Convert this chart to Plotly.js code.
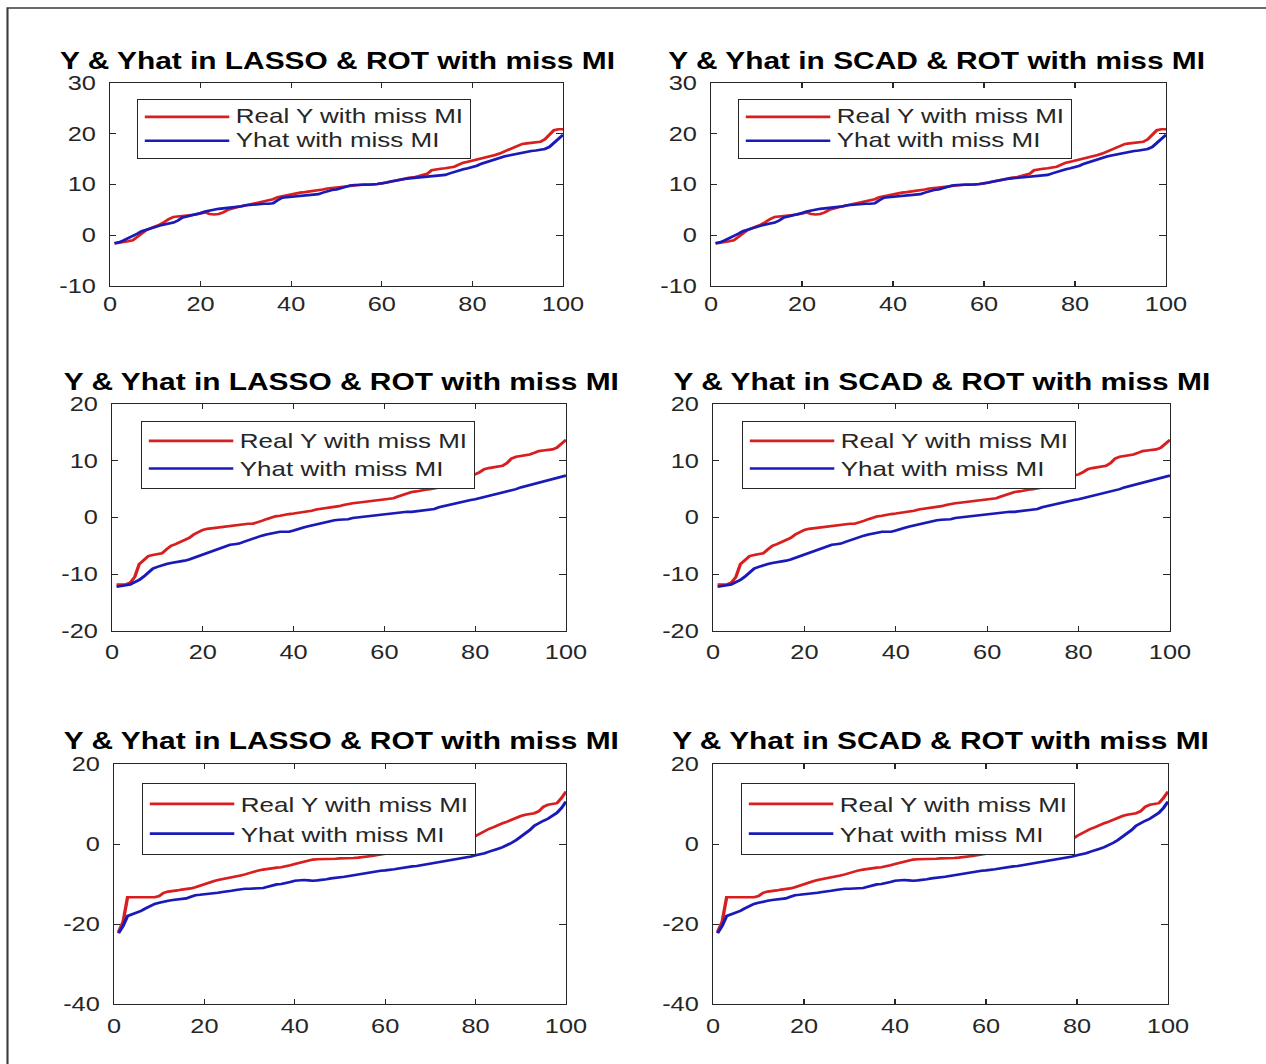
<!DOCTYPE html>
<html><head><meta charset="utf-8">
<script src="https://cdn.plot.ly/plotly-3.0.1.min.js"></script>
<style>
html,body{margin:0;padding:0;background:#fff;overflow:hidden;}
#wrap{width:1266px;height:1064px;overflow:hidden;position:relative;}
#chart{width:974px;height:1064px;transform-origin:0 0;transform:scaleX(1.29979);}
</style></head><body><div id="wrap"><div id="chart"></div></div>
<script>
// ---------------- data ----------------
const sampleIndex = [1,2,3,4,5,6,7,8,9,10,11,12,13,14,15,16,17,18,19,20,21,22,23,24,25,26,27,28,29,30,31,32,33,34,35,36,37,38,39,40,41,42,43,44,45,46,47,48,49,50,51,52,53,54,55,56,57,58,59,60,61,62,63,64,65,66,67,68,69,70,71,72,73,74,75,76,77,78,79,80,81,82,83,84,85,86,87,88,89,90,91,92,93,94,95,96,97,98,99,100];

const realY_row1 = [-1.6,-1.5,-1.3,-1.2,-1.0,-0.3,0.4,1.0,1.4,1.7,
 2.1,2.6,3.2,3.6,3.7,3.8,3.8,3.9,4.1,4.3,
 4.5,4.2,4.1,4.2,4.5,5.0,5.3,5.5,5.7,5.9,
 6.1,6.3,6.5,6.7,6.9,7.1,7.5,7.7,7.9,8.0,
 8.2,8.4,8.5,8.6,8.7,8.8,9.0,9.2,9.3,9.5,
 9.6,9.7,9.8,9.9,9.9,10.0,10.0,10.0,10.1,10.2,
 10.4,10.6,10.8,10.9,11.1,11.3,11.4,11.6,11.8,12.1,
 12.8,13.0,13.1,13.2,13.3,13.5,13.9,14.3,14.5,14.7,
 14.9,15.2,15.4,15.6,15.8,16.1,16.5,16.9,17.3,17.7,
 18.0,18.1,18.2,18.3,18.4,18.9,19.8,20.7,20.9,20.9];

const yhat_row1 = [-1.6,-1.4,-1.0,-0.6,-0.2,0.3,0.8,1.1,1.4,1.6,
 1.9,2.1,2.3,2.5,2.9,3.5,3.7,3.9,4.1,4.4,
 4.7,4.9,5.0,5.2,5.3,5.4,5.4,5.5,5.7,5.9,
 6.0,6.1,6.2,6.2,6.2,6.3,6.9,7.4,7.5,7.6,
 7.7,7.8,7.9,8.0,8.0,8.1,8.4,8.7,8.9,9.0,
 9.3,9.6,9.8,9.9,9.9,10.0,10.0,10.0,10.1,10.2,
 10.4,10.6,10.8,10.9,11.1,11.2,11.3,11.4,11.4,11.5,
 11.6,11.7,11.8,11.9,12.2,12.5,12.8,13.0,13.2,13.4,
 13.7,14.1,14.4,14.6,14.9,15.2,15.5,15.7,15.9,16.1,
 16.3,16.5,16.6,16.7,16.8,17.0,17.4,18.2,19.0,19.8];

const realY_row2 = [-11.8,-11.8,-11.8,-11.5,-10.5,-8.2,-7.4,-6.8,-6.6,-6.5,
 -6.3,-5.6,-5.0,-4.7,-4.3,-4.0,-3.6,-3.0,-2.6,-2.2,
 -2.0,-1.9,-1.8,-1.7,-1.6,-1.5,-1.3,-1.2,-1.2,-1.1,
 -1.1,-0.9,-0.6,-0.3,0.0,0.2,0.3,0.5,0.6,0.7,
 0.8,0.9,1.0,1.2,1.4,1.5,1.6,1.7,1.9,2.0,
 2.2,2.4,2.5,2.6,2.7,2.8,2.8,2.9,3.0,3.1,
 3.2,3.4,3.7,4.0,4.3,4.5,4.6,4.8,4.9,5.0,
 5.1,5.3,5.6,6.4,6.6,6.8,7.0,7.2,7.4,7.6,
 8.0,8.5,8.7,8.8,8.9,9.1,9.6,10.4,10.7,10.8,
 11.0,11.1,11.4,11.7,11.8,11.9,12.0,12.3,13.0,13.7];

const yhat_row2 = [-12.2,-12.1,-12.0,-11.8,-11.4,-11.0,-10.4,-9.6,-9.0,-8.7,
 -8.4,-8.2,-8.0,-7.9,-7.8,-7.6,-7.4,-7.1,-6.8,-6.6,
 -6.3,-6.0,-5.7,-5.3,-5.0,-4.8,-4.7,-4.6,-4.3,-4.0,
 -3.7,-3.5,-3.2,-3.0,-2.8,-2.6,-2.5,-2.5,-2.5,-2.3,
 -2.0,-1.8,-1.6,-1.4,-1.2,-1.0,-0.8,-0.6,-0.5,-0.4,
 -0.4,-0.3,-0.1,0.0,0.1,0.2,0.3,0.4,0.5,0.6,
 0.7,0.8,0.85,0.9,1.0,1.0,1.1,1.1,1.2,1.3,
 1.5,1.8,2.0,2.2,2.4,2.6,2.8,2.9,3.1,3.2,
 3.4,3.6,3.7,4.0,4.2,4.4,4.6,4.8,5.0,5.3,
 5.5,5.7,5.9,6.1,6.3,6.5,6.7,6.9,7.2,7.4];

const realY_row3 = [-22.0,-19.5,-13.3,-13.3,-13.3,-13.3,-13.3,-13.3,-13.3,-13.0,
 -12.2,-11.9,-11.8,-11.6,-11.4,-11.3,-11.1,-10.8,-10.4,-9.9,
 -9.5,-9.3,-9.0,-8.8,-8.6,-8.4,-8.1,-7.9,-7.6,-7.2,
 -6.9,-6.6,-6.4,-6.2,-6.0,-5.9,-5.8,-5.6,-5.3,-5.0,
 -4.7,-4.4,-4.1,-3.9,-3.8,-3.8,-3.7,-3.7,-3.7,-3.6,
 -3.6,-3.5,-3.5,-3.4,-3.3,-3.1,-3.0,-2.8,-2.6,-2.4,
 -2.3,-2.1,-1.9,-1.7,-1.5,-1.4,-1.3,-1.2,-1.1,-1.1,
 -1.0,-0.8,-0.5,-0.3,-0.1,0.2,0.5,0.8,1.2,2.0,
 2.6,3.3,3.8,4.2,4.8,5.2,5.6,6.1,6.7,7.0,
 7.3,7.5,7.7,8.2,9.3,9.8,10.0,10.2,11.5,13.1];

const yhat_row3 = [-22.3,-20.5,-18.0,-17.6,-17.2,-16.7,-16.1,-15.5,-15.0,-14.7,
 -14.4,-14.2,-14.0,-13.9,-13.8,-13.6,-13.2,-12.8,-12.7,-12.6,
 -12.5,-12.4,-12.2,-12.0,-11.9,-11.7,-11.5,-11.3,-11.2,-11.2,
 -11.1,-11.1,-11.0,-10.7,-10.4,-10.1,-10.0,-9.8,-9.5,-9.2,
 -9.1,-9.0,-9.1,-9.2,-9.1,-9.0,-8.8,-8.6,-8.5,-8.4,
 -8.2,-8.0,-7.8,-7.6,-7.5,-7.3,-7.1,-6.9,-6.7,-6.6,
 -6.5,-6.3,-6.1,-5.9,-5.7,-5.6,-5.5,-5.3,-5.1,-5.0,
 -4.8,-4.6,-4.4,-4.1,-3.9,-3.7,-3.5,-3.4,-3.1,-2.8,
 -2.6,-2.3,-1.9,-1.6,-1.2,-0.8,-0.3,0.3,1.0,1.8,
 2.8,3.5,4.6,5.3,5.8,6.3,7.1,7.8,9.0,10.6];

const titleLeft = "Y & Yhat in LASSO & ROT with miss MI";
const titleRight = "Y & Yhat in SCAD & ROT with miss MI";
const nameReal = "Real Y with miss MI";
const nameHat = "Yhat with miss MI";

const xTickVals = [0,20,40,60,80,100];
const xTickText = ["0","20","40","60","80","100"];
const yTickValsRow1 = [-10,0,10,20,30];
const yTickTextRow1 = ["-10","0","10","20","30"];
const yTickValsRow2 = [-20,-10,0,10,20];
const yTickTextRow2 = ["-20","-10","0","10","20"];
const yTickValsRow3 = [-40,-20,0,20];
const yTickTextRow3 = ["-40","-20","0","20"];

// ---------------- layout geometry (page pixels) ----------------
const PW = 1266, PH = 1064;
const panels = [
  {box:[110,563,83,286],  yr:[-10,30], yv:yTickValsRow1, yt:yTickTextRow1, real:realY_row1, hat:yhat_row1, title:titleLeft,  tc:[337,61.5], leg:[137,99],  lfs:16,   xso:1},
  {box:[711,1166,83,286], yr:[-10,30], yv:yTickValsRow1, yt:yTickTextRow1, real:realY_row1, hat:yhat_row1, title:titleRight, tc:[937,61.5], leg:[738,99],  lfs:16,   xso:1},
  {box:[112,566,404,631], yr:[-20,20], yv:yTickValsRow2, yt:yTickTextRow2, real:realY_row2, hat:yhat_row2, title:titleLeft,  tc:[341,381.5],leg:[141,421], lfs:19,   xso:4},
  {box:[713,1170,404,631],yr:[-20,20], yv:yTickValsRow2, yt:yTickTextRow2, real:realY_row2, hat:yhat_row2, title:titleRight, tc:[942,381.5],leg:[742,421], lfs:19,   xso:4},
  {box:[114,566,764,1004],yr:[-40,20], yv:yTickValsRow3, yt:yTickTextRow3, real:realY_row3, hat:yhat_row3, title:titleLeft,  tc:[341,741],  leg:[142,783], lfs:20.6, xso:5},
  {box:[713,1168,764,1004],yr:[-40,20],yv:yTickValsRow3, yt:yTickTextRow3, real:realY_row3, hat:yhat_row3, title:titleRight, tc:[941,741],  leg:[741,783], lfs:20.6, xso:5}
];

const FONT = "Liberation Sans, Arial, Helvetica, sans-serif";
const AX = '#262626';
const RED = '#d81e1e';
const BLUE = '#1a1ab8';
const LEGEND_TEXT_PX = 20;

const traces = [];
const layout = {
  width: 974, height: PH,
  margin: {l:0, r:0, t:0, b:0, pad:0},
  paper_bgcolor: '#fff', plot_bgcolor: '#fff',
  annotations: [], shapes: [],
  font: {family: FONT, color: AX}
};

const legendLabel = (s) => '<span style="font-size:' + LEGEND_TEXT_PX + 'px">' + s + '</span>';

panels.forEach((p, i) => {
  const k = i + 1;
  const xa = k === 1 ? 'x' : 'x' + k;
  const ya = k === 1 ? 'y' : 'y' + k;
  const lg = k === 1 ? 'legend' : 'legend' + k;
  traces.push({x: sampleIndex, y: p.real, type:'scatter', mode:'lines', name: legendLabel(nameReal),
    line:{color:RED, width:2.6}, xaxis:xa, yaxis:ya, legend:lg});
  traces.push({x: sampleIndex, y: p.hat, type:'scatter', mode:'lines', name: legendLabel(nameHat),
    line:{color:BLUE, width:2.6}, xaxis:xa, yaxis:ya, legend:lg});

  const common = {showgrid:false, zeroline:false, showline:true, linecolor:AX, linewidth:1,
    mirror:'allticks', ticks:'inside', ticklen:5, tickcolor:AX, tickwidth:1,
    tickfont:{family:FONT, size:19.5, color:AX}, fixedrange:true, tickmode:'array'};
  layout[k === 1 ? 'xaxis' : 'xaxis' + k] = Object.assign({}, common, {
    domain:[p.box[0]/PW, p.box[1]/PW], range:[0,100], tickvals:xTickVals, ticktext:xTickText, anchor: ya,
    ticklabelstandoff: p.xso});
  layout[k === 1 ? 'yaxis' : 'yaxis' + k] = Object.assign({}, common, {
    domain:[1 - p.box[3]/PH, 1 - p.box[2]/PH], range:p.yr, tickvals:p.yv, ticktext:p.yt, anchor: xa,
    ticklabelstandoff: 6});
  layout[lg] = {x: p.leg[0]/PW, y: 1 - p.leg[1]/PH, xanchor:'left', yanchor:'top',
    bgcolor:'#fff', bordercolor:AX, borderwidth:1, itemwidth:65,
    font:{family:FONT, size:p.lfs, color:AX}, traceorder:'normal'};
  layout.annotations.push({xref:'paper', yref:'paper', x:p.tc[0]/PW, y:1 - p.tc[1]/PH,
    xanchor:'center', yanchor:'middle', showarrow:false, text:p.title,
    font:{family:FONT, size:23, color:'#000', weight:'bold'}});
});

// outer figure frame (top + left edges visible)
layout.shapes.push({type:'rect', xref:'paper', yref:'paper',
  x0: 7.5/PW, x1: 1.05, y0: -0.05, y1: 1 - 8/PH, line:{color:'#3a3a3a', width:1.6}, fillcolor:'rgba(0,0,0,0)'});

Plotly.newPlot('chart', traces, layout, {staticPlot:true, displayModeBar:false});
</script></body></html>
